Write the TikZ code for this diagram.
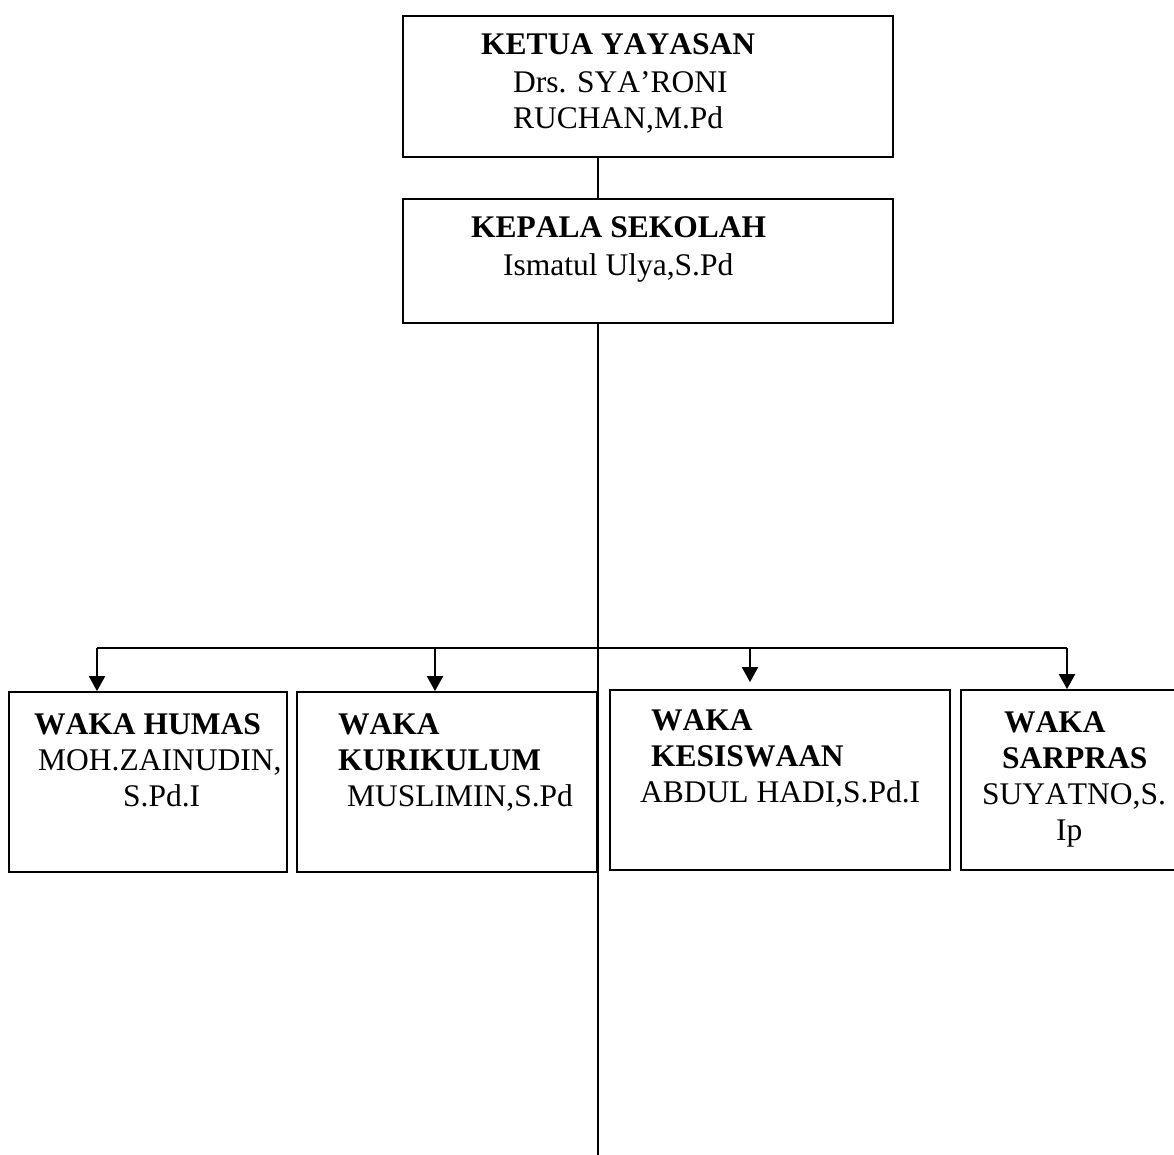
\documentclass[tikz,border=0pt]{standalone}
\usepackage{fontspec}
\setmainfont{Liberation Serif}[Kerning=Off]
\usetikzlibrary{arrows.meta}
\tikzset{
  orgbox/.style={draw, rectangle, line width=1.8pt, inner sep=0pt},
  lbl/.style={anchor=base west, inner sep=0pt, font=\fontsize{31.5}{36.2}\selectfont},
  blbl/.style={lbl, font=\fontsize{31.5}{36.2}\selectfont\bfseries},
  conn/.style={line width=2pt},
  arr/.style={conn, -{Triangle[width=16pt,length=15pt]}}
}
\begin{document}
\begin{tikzpicture}[x=1pt,y=-1pt]
\useasboundingbox (0,0) rectangle (1174,1155);
\clip (0,0) rectangle (1174,1155);
% boxes
\node[orgbox, minimum width=490pt, minimum height=141pt] (ketua) at (648,86.5) {};
\node[orgbox, minimum width=490pt, minimum height=124pt] (kepala) at (648,261) {};
\node[orgbox, minimum width=278pt, minimum height=180pt] (humas) at (148,782) {};
\node[orgbox, minimum width=300pt, minimum height=180pt] (kurikulum) at (447,782) {};
\node[orgbox, minimum width=340pt, minimum height=180pt] (kesiswaan) at (780,780) {};
\node[orgbox, minimum width=224pt, minimum height=180pt] (sarpras) at (1073,780) {};
% texts
\node[blbl] (t1) at (481,55) {KETUA YAYASAN};
\node[lbl] (t2) at (513,93) {Drs. SYA’RONI};
\node[lbl] (t3) at (513,129) {RUCHAN,M.Pd};
\node[blbl] (t4) at (471,238) {KEPALA SEKOLAH};
\node[lbl] (t5) at (503,276) {Ismatul Ulya,S.Pd};
\node[blbl] (t6) at (34,734) {WAKA HUMAS};
\node[lbl] (t7) at (38,770) {MOH.ZAINUDIN,};
\node[lbl] (t8) at (123,806) {S.Pd.I};
\node[blbl] (t9) at (338,734) {WAKA};
\node[blbl] (t10) at (338,770) {KURIKULUM};
\node[lbl] (t11) at (347,806) {MUSLIMIN,S.Pd};
\node[blbl] (t12) at (651,730) {WAKA};
\node[blbl] (t13) at (651,766) {KESISWAAN};
\node[lbl] (t14) at (640,802) {ABDUL HADI,S.Pd.I};
\node[blbl] (t15) at (1004,732) {WAKA};
\node[blbl] (t16) at (1002,768) {SARPRAS};
\node[lbl] (t17) at (982,804) {SUYATNO,S.};
\node[lbl] (t18) at (1056,840) {Ip};
% connectors
\coordinate (c) at (598,0);
\coordinate (bottomend) at (598,1155);
\coordinate (a1) at (97,648);
\coordinate (a2) at (435,648);
\coordinate (a3) at (750,648);
\coordinate (a4) at (1067,648);
\draw[conn] (ketua.south -| c) -- (kepala.north -| c);
\draw[conn] (kepala.south -| c) -- (bottomend);
\draw[conn] (a1) -- (a4);
\draw[arr] (a1) -- (humas.north -| a1);
\draw[arr] (a2) -- (kurikulum.north -| a2);
\draw[arr, shorten >=7pt] (a3) -- (kesiswaan.north -| a3);
\draw[arr] (a4) -- (sarpras.north -| a4);
\end{tikzpicture}
\end{document}
